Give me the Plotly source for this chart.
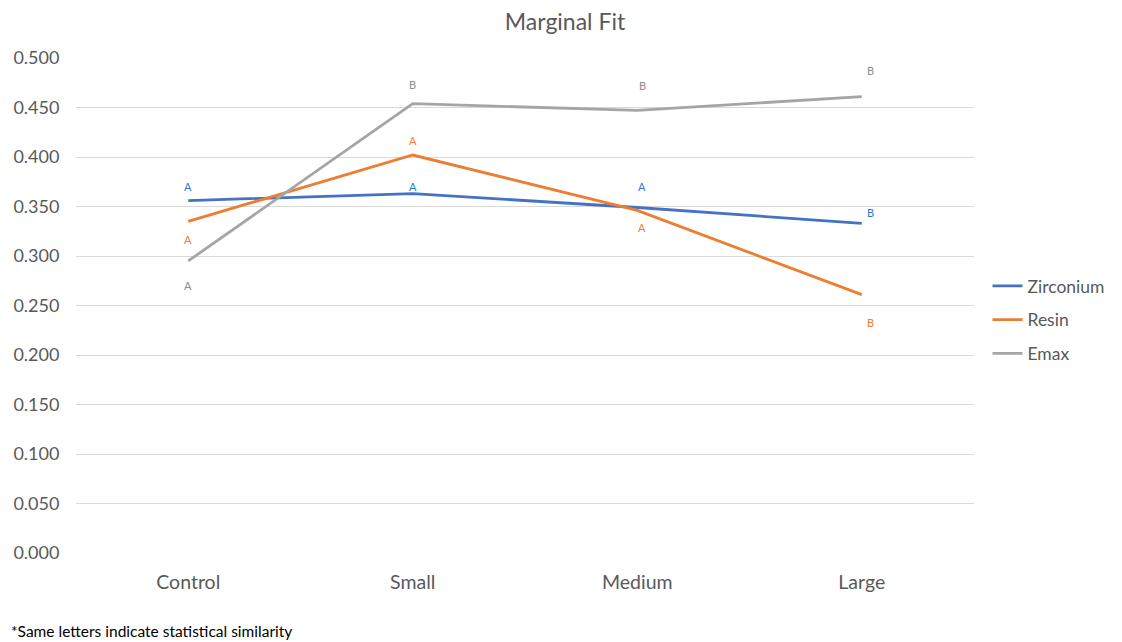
import plotly.graph_objects as go

categories = ["Control", "Small", "Medium", "Large"]
zirconium = [0.356, 0.363, 0.349, 0.333]
resin = [0.335, 0.402, 0.346, 0.261]
emax = [0.295, 0.454, 0.447, 0.461]

zirconium_letters = ["A", "A", "A", "B"]
resin_letters = ["A", "A", "A", "B"]
emax_letters = ["A", "B", "B", "B"]

series = [
    ("Zirconium", zirconium, zirconium_letters, "#4472C4", "#2E75D6", [14, 7, 21, 11]),
    ("Resin", resin, resin_letters, "#ED7D31", "#ED7D31", [-18, 15, -17, -28]),
    ("Emax", emax, emax_letters, "#A5A5A5", "#8C8C8C", [-25, 19, 25, 26]),
]
xshifts = [0, 0, 5, 9]

FONT = "Lato"
W, H = 1114, 634          # page body has an 8px margin
L, T, PW, PH = 67.5, 50, 899, 495

fig = go.Figure()
annotations = []
for i, (name, vals, letters, color, lcolor, yshifts) in enumerate(series):
    fig.add_trace(go.Scatter(
        x=categories, y=vals, mode="lines", name=name,
        line=dict(color=color, width=2.8), legendgroup=name,
    ))
    for j, (c, v, l) in enumerate(zip(categories, vals, letters)):
        annotations.append(dict(
            x=c, y=v, xref="x", yref="y", text=l, showarrow=False,
            yshift=yshifts[j], xshift=xshifts[j],
            font=dict(family=FONT, size=11, color=lcolor),
        ))

annotations.append(dict(
    x=-L / PW, y=-(631 - 8 - (T + PH)) / PH, xref="paper", yref="paper",
    xanchor="left", yanchor="middle",
    text="*Same letters indicate statistical similarity", showarrow=False,
    font=dict(family=FONT, size=15.5, color="#000000"),
))

fig.update_layout(
    width=W, height=H,
    margin=dict(l=L, r=W - L - PW, t=T, b=H - T - PH, autoexpand=False),
    paper_bgcolor="white", plot_bgcolor="white",
    title=dict(text="Marginal Fit", x=(565 - 8) / W, xanchor="center", y=1 - 14 / H,
               yanchor="middle", font=dict(family=FONT, size=23, color="#595959")),
    xaxis=dict(range=[-0.5, 3.5], showgrid=False, showline=False, zeroline=False,
               ticks="outside", ticklen=12, tickcolor="rgba(0,0,0,0)",
               tickfont=dict(family=FONT, size=19.5, color="#595959")),
    yaxis=dict(range=[0, 0.5], dtick=0.05, tickformat=".3f", showgrid=True,
               gridcolor="#D9D9D9", gridwidth=1, zeroline=False, showline=False,
               ticks="outside", ticklen=12, tickcolor="rgba(0,0,0,0)",
               tickfont=dict(family=FONT, size=18, color="#595959")),
    legend=dict(x=(988 - 8 - L) / PW, y=1 - (320 - 8 - T) / PH, xanchor="left", yanchor="middle",
                font=dict(family=FONT, size=17.5, color="#595959"),
                traceorder="grouped", tracegroupgap=8, bgcolor="rgba(0,0,0,0)"),
    annotations=annotations,
)
fig.write_html("out.html")
